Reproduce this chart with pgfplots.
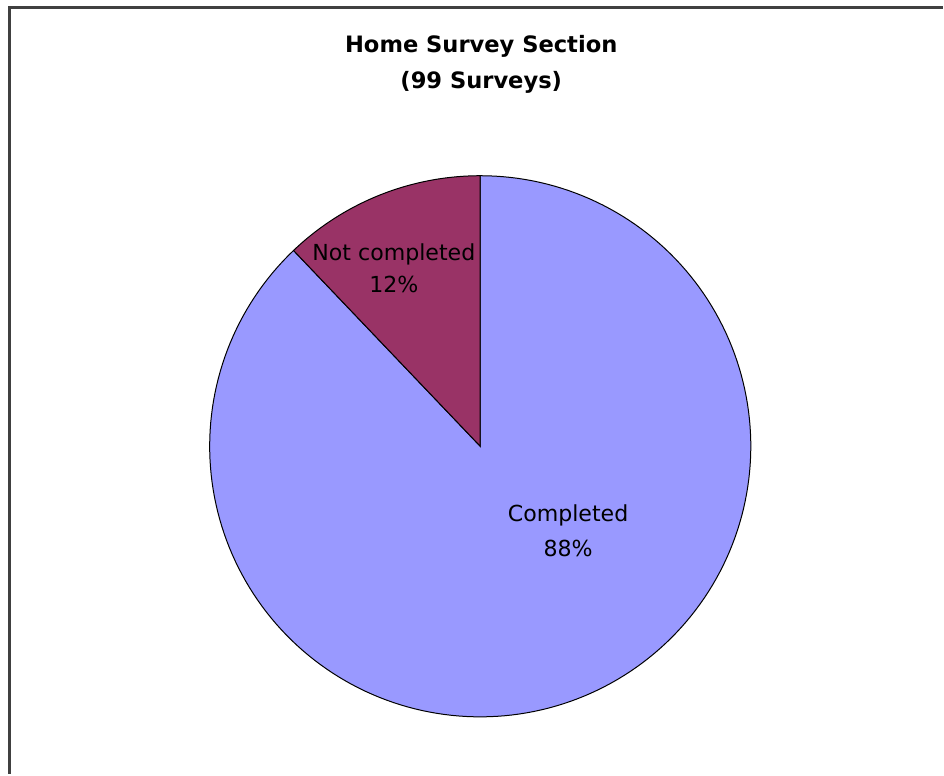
\documentclass[border=0pt]{standalone}
\usepackage{pgfplots}
\pgfplotsset{compat=1.18}
\usepackage{fontspec}
\setmainfont{DejaVu Sans}
\definecolor{compl}{HTML}{9999FF}
\definecolor{notc}{HTML}{993366}
\definecolor{frame}{HTML}{404040}
\begin{document}
\begin{tikzpicture}
% survey counts (99 surveys)
\pgfmathsetmacro{\vNot}{12}
\pgfmathsetmacro{\vComp}{87}
\pgfmathsetmacro{\aStart}{90}
\pgfmathsetmacro{\aMid}{90+360*\vNot/(\vNot+\vComp)}
\pgfmathsetmacro{\aEnd}{450}
\begin{axis}[x=1bp,y=1bp,xmin=0,xmax=944,ymin=0,ymax=775,hide axis,clip=false]
\path (axis cs:0,0) rectangle (axis cs:944,775);
\addplot[fill=compl, draw=black, line width=1bp, domain=\aMid:\aEnd, samples=200]
  ({481+271*cos(x)},{328+271*sin(x)}) -- (axis cs:481,328) -- cycle;
\addplot[fill=notc, draw=black, line width=1bp, domain=\aStart:\aMid, samples=60]
  ({481+271*cos(x)},{328+271*sin(x)}) -- (axis cs:481,328) -- cycle;
\draw[frame, line width=3bp] (axis cs:10,0) -- (axis cs:10,767) -- (axis cs:944,767);
\node[anchor=base, font=\bfseries\fontsize{22.7}{24}\selectfont] at (axis cs:482,722) {Home Survey Section};
\node[anchor=base, font=\bfseries\fontsize{22.7}{24}\selectfont] at (axis cs:482,686) {(99 Surveys)};
\node[anchor=base, font=\fontsize{22.2}{24}\selectfont] at (axis cs:394.5,514) {Not completed};
\node[anchor=base, font=\fontsize{22.2}{24}\selectfont] at (axis cs:394.5,482) {12\%};
\node[anchor=base, font=\fontsize{22.2}{24}\selectfont] at (axis cs:569,253) {Completed};
\node[anchor=base, font=\fontsize{22.2}{24}\selectfont] at (axis cs:569,218) {88\%};
\end{axis}
\end{tikzpicture}
\end{document}
